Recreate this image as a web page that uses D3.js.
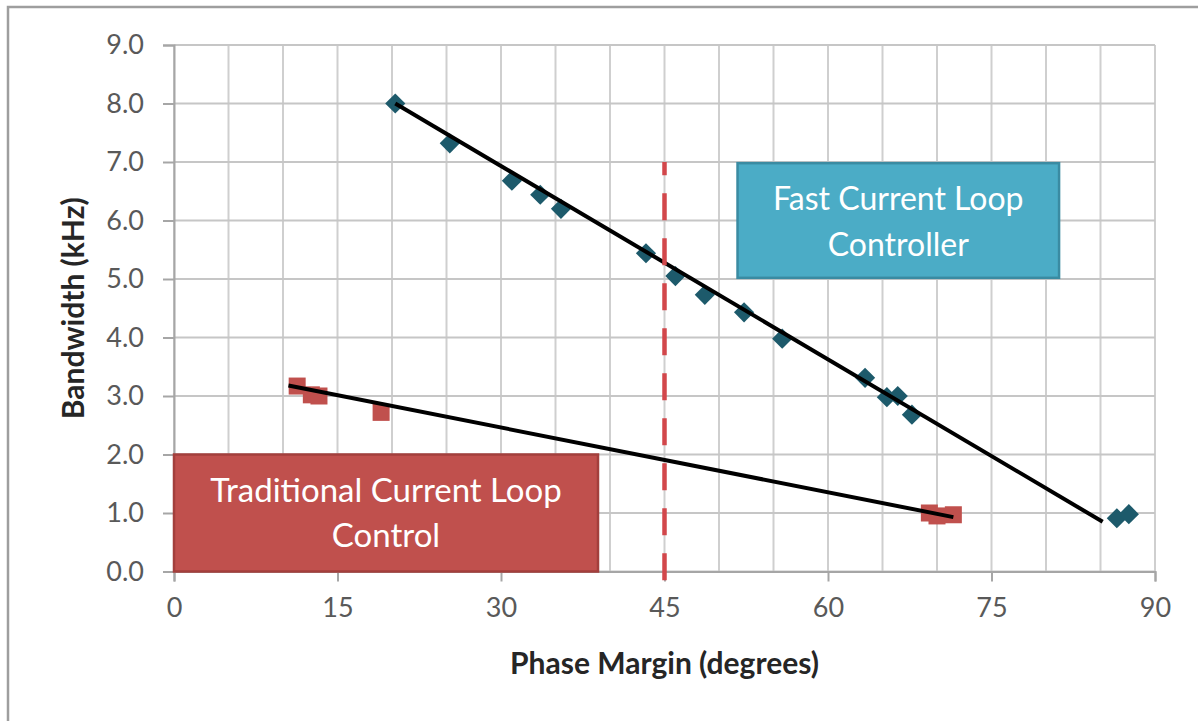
<!DOCTYPE html>
<html>
<head>
<meta charset="utf-8">
<script src="https://cdnjs.cloudflare.com/ajax/libs/d3/7.8.5/d3.min.js"></script>
<style>
	body { margin: 0; background: #fff; }
	svg { display: block; font-family: Lato, "Open Sans", sans-serif; }
</style>
</head>
<body>
<div id="chart"></div>
<script>

// fast current loop controller points
var fastPM = [20.3, 25.3, 31.0, 33.6, 35.5, 43.3, 46.0, 48.7, 52.3, 55.8, 63.4, 65.4, 66.4, 67.7, 86.5, 87.6]
var fastBW = [8.0, 7.32, 6.68, 6.44, 6.2, 5.44, 5.05, 4.73, 4.43, 3.98, 3.31, 2.98, 3.0, 2.68, 0.91, 0.98]

// traditional current loop control points
var tradPM = [11.3, 12.6, 13.3, 19.0, 69.3, 70.0, 71.5]
var tradBW = [3.17, 3.02, 3.0, 2.72, 1.0, 0.95, 0.97]

// trend line end points
var fastTrendPM = [20.3, 85.2]
var fastTrendBW = [8.0, 0.85]
var tradTrendPM = [10.5, 71.5]
var tradTrendBW = [3.18, 0.93]

var xTicks = [0, 15, 30, 45, 60, 75, 90]
var yTicks = [0, 1, 2, 3, 4, 5, 6, 7, 8, 9]
var xGrid = d3.range(0, 91, 5)
var markerPM = 45

var width = 1198,
	height = 721;

var svg = d3.select("#chart").append("svg")
	.attr("width", width)
	.attr("height", height)

var x = d3.scaleLinear().domain([0, 90]).range([174, 1155]);
var y = d3.scaleLinear().domain([0, 9]).range([571.5, 45]);

// frame
svg.append('rect')
	.attr('x', 8).attr('y', 7)
	.attr('width', 1300).attr('height', 900)
	.style('fill', 'none')
	.style('stroke', '#9e9e9e')
	.style('stroke-width', 2.5)

// grid
svg.append('g').selectAll('line')
	.data(xGrid)
	.enter().append('line')
	.attr('x1', function(d) { return x(d) }).attr('x2', function(d) { return x(d) })
	.attr('y1', y(9)).attr('y2', y(0))
	.style('stroke', '#cfcfcf')
	.style('stroke-width', 2)

svg.append('g').selectAll('line')
	.data(yTicks)
	.enter().append('line')
	.attr('x1', x(0)).attr('x2', x(90))
	.attr('y1', function(d) { return y(d) }).attr('y2', function(d) { return y(d) })
	.style('stroke', '#c6c6c6')
	.style('stroke-width', 2)

// axes
var xAxis = svg.append('g')
	.attr('transform', 'translate(0,' + y(0) + ')')
	.call(d3.axisBottom(x).tickValues(xTicks).tickSize(10).tickPadding(16).tickFormat(d3.format('d')))

var yAxis = svg.append('g')
	.attr('transform', 'translate(' + x(0) + ',0)')
	.call(d3.axisLeft(y).tickValues(yTicks).tickSize(11).tickPadding(19).tickFormat(d3.format('.1f')))

svg.selectAll('.domain').style('stroke', '#a6a6a6').style('stroke-width', 2)
svg.selectAll('.tick line').style('stroke', '#a6a6a6').style('stroke-width', 2)
svg.selectAll('.tick text')
	.style('font-family', 'Lato, sans-serif')
	.style('font-size', '27px')
	.style('fill', '#595959')

// boxes
var tradBox = svg.append('g')
tradBox.append('rect')
	.attr('x', x(0)).attr('y', y(2.0))
	.attr('width', x(38.9) - x(0)).attr('height', y(0) - y(2.0))
	.style('fill', '#c0504d')
	.style('stroke', '#a33f3c')
	.style('stroke-width', 2.5)
tradBox.append('text')
	.attr('x', (x(0) + x(38.9)) / 2).attr('y', y(1.19))
	.style('text-anchor', 'middle')
	.style('font-size', '33px')
	.style('fill', '#fff')
	.text('Traditional Current Loop')
tradBox.append('text')
	.attr('x', (x(0) + x(38.9)) / 2).attr('y', y(0.42))
	.style('text-anchor', 'middle')
	.style('font-size', '33px')
	.style('fill', '#fff')
	.text('Control')

var fastBox = svg.append('g')
fastBox.append('rect')
	.attr('x', x(51.7)).attr('y', y(6.98))
	.attr('width', x(81.2) - x(51.7)).attr('height', y(5.02) - y(6.98))
	.style('fill', '#4bacc6')
	.style('stroke', '#3a8ba2')
	.style('stroke-width', 2.5)
fastBox.append('text')
	.attr('x', (x(51.7) + x(81.2)) / 2).attr('y', y(6.18))
	.style('text-anchor', 'middle')
	.style('font-size', '32px')
	.style('fill', '#fff')
	.text('Fast Current Loop')
fastBox.append('text')
	.attr('x', (x(51.7) + x(81.2)) / 2).attr('y', y(5.4))
	.style('text-anchor', 'middle')
	.style('font-size', '32px')
	.style('fill', '#fff')
	.text('Controller')

// markers
var sq = 17
svg.append('g').selectAll('rect')
	.data(tradPM)
	.enter().append('rect')
	.attr('x', function(d) { return x(d) - sq / 2 })
	.attr('y', function(d, i) { return y(tradBW[i]) - sq / 2 })
	.attr('width', sq).attr('height', sq)
	.style('fill', '#c0504d')

var diamond = d3.symbol().type(d3.symbolDiamond2).size(260)
svg.append('g').selectAll('path')
	.data(fastPM)
	.enter().append('path')
	.attr('d', diamond)
	.attr('transform', function(d, i) { return 'translate(' + x(d) + ',' + y(fastBW[i]) + ')' })
	.style('fill', '#1d5a6b')

// trend lines
var line = d3.line()
	.x(function(d) { return x(d[0]) })
	.y(function(d) { return y(d[1]) })

svg.append('path')
	.datum(d3.zip(fastTrendPM, fastTrendBW))
	.attr('d', line)
	.style('fill', 'none')
	.style('stroke', '#000')
	.style('stroke-width', 4)

svg.append('path')
	.datum(d3.zip(tradTrendPM, tradTrendBW))
	.attr('d', line)
	.style('fill', 'none')
	.style('stroke', '#000')
	.style('stroke-width', 4)

// 45 degree marker
svg.append('line')
	.attr('x1', x(markerPM)).attr('x2', x(markerPM))
	.attr('y1', y(-0.15)).attr('y2', y(7.0))
	.style('stroke', '#d2474b')
	.style('stroke-width', 4.5)
	.style('stroke-dasharray', '27,18')

// axis titles
svg.append('text')
	.attr('x', (x(0) + x(90)) / 2).attr('y', 674)
	.style('text-anchor', 'middle')
	.style('font-size', '30px')
	.style('font-weight', 'bold')
	.style('fill', '#262626')
	.text('Phase Margin (degrees)')

svg.append('text')
	.attr('transform', 'translate(84,' + (y(0) + y(9)) / 2 + ') rotate(-90)')
	.style('text-anchor', 'middle')
	.style('font-size', '30px')
	.style('font-weight', 'bold')
	.style('fill', '#262626')
	.text('Bandwidth (kHz)')

</script>
</body>
</html>
